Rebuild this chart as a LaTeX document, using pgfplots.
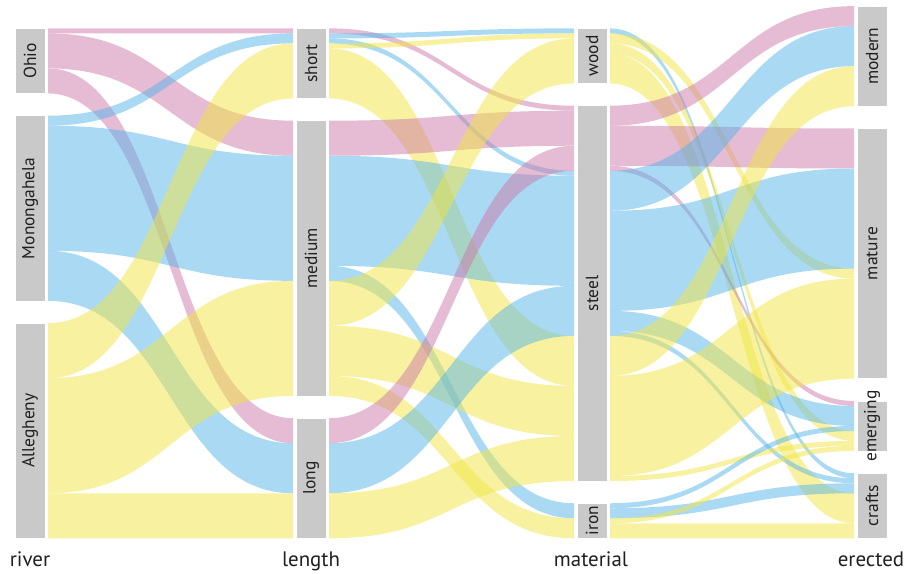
\documentclass[border=0pt]{standalone}
\usepackage{pgfplots}
\pgfplotsset{compat=1.18}
\usepackage{fontspec}
\setmainfont{PT Sans}
\definecolor{pinkO}{HTML}{CC79A7}
\definecolor{blueM}{HTML}{56B4E9}
\definecolor{yellA}{HTML}{F0E442}
\definecolor{barc}{HTML}{C9C9C9}
% flow: #1 x left, #2 x right, #3 left bottom, #4 right bottom, #5 count, #6 colour
\newcommand{\flow}[6]{%
  \pgfmathsetmacro{\yat}{#3+#5}\pgfmathsetmacro{\ybt}{#4+#5}%
  \pgfmathsetmacro{\xm}{(#1+#2)/2}%
  \edef\doflow{\noexpand\fill[#6, fill opacity=0.5]
    (axis cs:#1,\yat) .. controls (axis cs:\xm,\yat) and (axis cs:\xm,\ybt) .. (axis cs:#2,\ybt)
    -- (axis cs:#2,#4) .. controls (axis cs:\xm,#4) and (axis cs:\xm,#3) .. (axis cs:#1,#3) -- cycle;}%
  \doflow}
% bar: #1 x left, #2 bottom, #3 top, #4 label
\newcommand{\stratum}[4]{%
  \pgfmathsetmacro{\xr}{#1+30}\pgfmathsetmacro{\xc}{#1+15}\pgfmathsetmacro{\yc}{(#2+#3)/2}%
  \edef\dobar{\noexpand\addplot[fill=barc, draw=white, line width=0.6pt] coordinates {(#1,#2) (\xr,#2) (\xr,#3) (#1,#3)} --cycle;
  \noexpand\node[rotate=90, font=\noexpand\fontsize{17.5}{19}\noexpand\selectfont, text=black!88] at (axis cs:\xc,\yc) {#4};}%
  \dobar}
\begin{document}
\begin{tikzpicture}
\begin{axis}[
  width=911bp, height=573bp, scale only axis,
  xmin=0, xmax=911, ymin=-6.934, ymax=107.574,
  hide axis, clip=false]
% full frame as bounding box
\draw[draw=none, fill=none] (axis cs:0,-6.934) rectangle (axis cs:911,107.574);
% ---- river -> length
\flow{48}{293}{100.9}{100.9}{1}{pinkO}
\flow{48}{293}{93.9}{76.45}{7}{pinkO}
\flow{48}{293}{88.9}{19}{5}{pinkO}
\flow{48}{293}{82.45}{98.9}{2}{blueM}
\flow{48}{293}{57.45}{51.45}{25}{blueM}
\flow{48}{293}{47.45}{9}{10}{blueM}
\flow{48}{293}{32}{87.9}{11}{yellA}
\flow{48}{293}{9}{28.45}{23}{yellA}
\flow{48}{293}{0}{0}{9}{yellA}
% ---- length -> material
\flow{329}{574}{100.9}{85.45}{1}{pinkO}
\flow{329}{574}{99.9}{100.9}{1}{blueM}
\flow{329}{574}{98.9}{72.45}{1}{blueM}
\flow{329}{574}{97.9}{99.9}{1}{yellA}
\flow{329}{574}{87.9}{30.45}{10}{yellA}
\flow{329}{574}{76.45}{78.45}{7}{pinkO}
\flow{329}{574}{54.45}{50.45}{22}{blueM}
\flow{329}{574}{51.45}{4}{3}{blueM}
\flow{329}{574}{42.45}{90.9}{9}{yellA}
\flow{329}{574}{32.45}{20.45}{10}{yellA}
\flow{329}{574}{28.45}{0}{4}{yellA}
\flow{329}{574}{19}{73.45}{5}{pinkO}
\flow{329}{574}{9}{40.45}{10}{blueM}
\flow{329}{574}{0}{11.45}{9}{yellA}
% ---- material -> erected
\flow{610}{854}{100.9}{12}{1}{blueM}
\flow{610}{854}{98.9}{51.9}{2}{yellA}
\flow{610}{854}{96.9}{19.45}{2}{yellA}
\flow{610}{854}{90.9}{3}{6}{yellA}
\flow{610}{854}{82.45}{102.35}{4}{pinkO}
\flow{610}{854}{74.45}{73.9}{8}{pinkO}
\flow{610}{854}{73.45}{26.45}{1}{pinkO}
\flow{610}{854}{65.45}{94.35}{8}{blueM}
\flow{610}{854}{45.45}{53.9}{20}{blueM}
\flow{610}{854}{41.45}{22.45}{4}{blueM}
\flow{610}{854}{40.45}{11}{1}{blueM}
\flow{610}{854}{32.45}{86.35}{8}{yellA}
\flow{610}{854}{12.45}{31.9}{20}{yellA}
\flow{610}{854}{11.45}{18.45}{1}{yellA}
\flow{610}{854}{6}{21.45}{1}{blueM}
\flow{610}{854}{4}{9}{2}{blueM}
\flow{610}{854}{3}{17.45}{1}{yellA}
\flow{610}{854}{0}{0}{3}{yellA}
% ---- strata
\stratum{15}{0}{43}{Allegheny}
\stratum{15}{47.45}{84.45}{Monongahela}
\stratum{15}{88.9}{101.9}{Ohio}
\stratum{296}{0}{24}{long}
\stratum{296}{28.45}{83.45}{medium}
\stratum{296}{87.9}{101.9}{short}
\stratum{577}{0}{7}{iron}
\stratum{577}{11.45}{86.45}{steel}
\stratum{577}{90.9}{101.9}{wood}
\stratum{857}{0}{13}{crafts}
\stratum{857}{17.45}{27.45}{emerging}
\stratum{857}{31.9}{81.9}{mature}
\stratum{857}{86.35}{106.35}{modern}
% ---- axis titles
\node[anchor=base, font=\fontsize{21}{23}\selectfont, text=black!88] at (axis cs:30,-5.55) {river};
\node[anchor=base, font=\fontsize{21}{23}\selectfont, text=black!88] at (axis cs:311,-5.55) {length};
\node[anchor=base, font=\fontsize{21}{23}\selectfont, text=black!88] at (axis cs:591,-5.55) {material};
\node[anchor=base, font=\fontsize{21}{23}\selectfont, text=black!88] at (axis cs:871,-5.55) {erected};
\end{axis}
\end{tikzpicture}
\end{document}
